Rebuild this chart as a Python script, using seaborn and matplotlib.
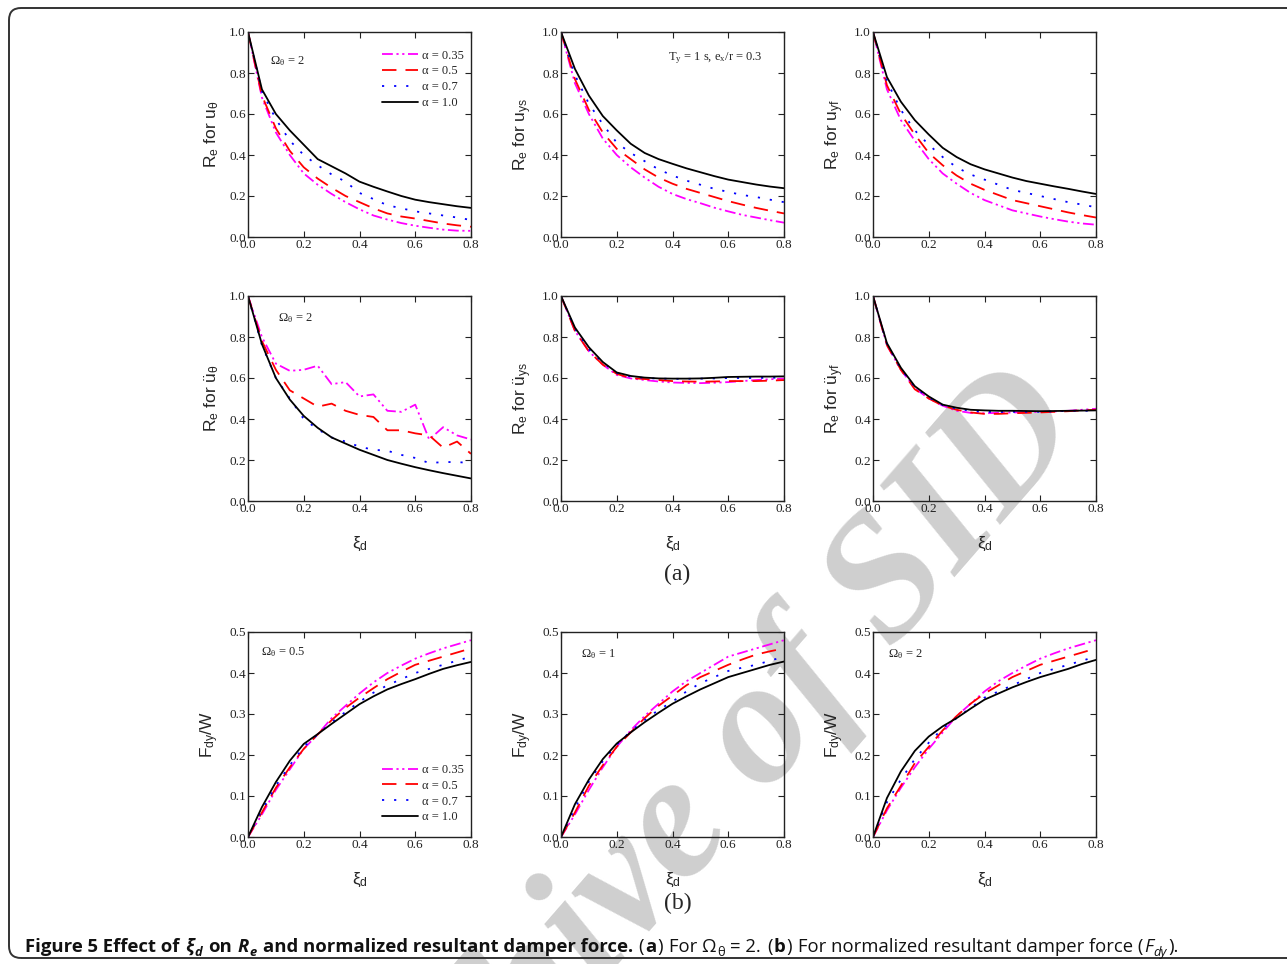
import numpy as np
import pandas as pd
import matplotlib
matplotlib.use("Agg")
import matplotlib.pyplot as plt
import seaborn as sns
from matplotlib.patches import FancyBboxPatch
from matplotlib.transforms import IdentityTransform

# damping ratio grid
xi_d = [0.0, 0.05, 0.1, 0.15, 0.2, 0.25, 0.3, 0.35, 0.4, 0.45, 0.5, 0.55, 0.6, 0.65, 0.7, 0.75, 0.8]
alphas = ["0.35", "0.5", "0.7", "1.0"]

# Re for u_theta (a: alpha 0.35, 0.5, 0.7, 1.0)
u_th_035 = [1.0, 0.68, 0.51, 0.40, 0.31, 0.255, 0.21, 0.17, 0.135, 0.105, 0.085, 0.068, 0.055, 0.045, 0.036, 0.031, 0.03]
u_th_05 = [1.0, 0.69, 0.53, 0.42, 0.34, 0.285, 0.24, 0.20, 0.17, 0.14, 0.115, 0.10, 0.09, 0.078, 0.066, 0.057, 0.05]
u_th_07 = [1.0, 0.71, 0.575, 0.47, 0.40, 0.35, 0.305, 0.27, 0.215, 0.185, 0.155, 0.14, 0.125, 0.115, 0.105, 0.095, 0.083]
u_th_10 = [1.0, 0.72, 0.60, 0.52, 0.45, 0.38, 0.345, 0.31, 0.27, 0.245, 0.222, 0.20, 0.182, 0.17, 0.16, 0.15, 0.142]

# Re for u_ys
u_ys_035 = [1.0, 0.75, 0.60, 0.48, 0.40, 0.34, 0.29, 0.245, 0.21, 0.185, 0.165, 0.143, 0.125, 0.108, 0.095, 0.082, 0.07]
u_ys_05 = [1.0, 0.77, 0.62, 0.51, 0.43, 0.38, 0.33, 0.29, 0.26, 0.235, 0.215, 0.195, 0.175, 0.158, 0.142, 0.128, 0.115]
u_ys_07 = [1.0, 0.79, 0.65, 0.55, 0.46, 0.41, 0.37, 0.33, 0.30, 0.275, 0.255, 0.235, 0.22, 0.205, 0.195, 0.182, 0.17]
u_ys_10 = [1.0, 0.82, 0.69, 0.59, 0.52, 0.455, 0.41, 0.38, 0.357, 0.335, 0.316, 0.297, 0.28, 0.268, 0.256, 0.246, 0.238]

# Re for u_yf
u_yf_035 = [1.0, 0.72, 0.57, 0.47, 0.38, 0.31, 0.26, 0.215, 0.18, 0.155, 0.13, 0.115, 0.10, 0.087, 0.075, 0.066, 0.06]
u_yf_05 = [1.0, 0.74, 0.60, 0.50, 0.41, 0.35, 0.30, 0.26, 0.23, 0.205, 0.18, 0.165, 0.15, 0.135, 0.12, 0.107, 0.095]
u_yf_07 = [1.0, 0.76, 0.62, 0.52, 0.45, 0.39, 0.34, 0.305, 0.28, 0.255, 0.23, 0.215, 0.20, 0.185, 0.17, 0.158, 0.145]
u_yf_10 = [1.0, 0.78, 0.66, 0.57, 0.50, 0.435, 0.39, 0.355, 0.33, 0.31, 0.29, 0.273, 0.26, 0.247, 0.235, 0.222, 0.21]

# Re for acceleration theta
a_th_035 = [1.0, 0.80, 0.67, 0.635, 0.64, 0.66, 0.57, 0.58, 0.51, 0.52, 0.44, 0.435, 0.47, 0.30, 0.36, 0.32, 0.30]
a_th_05 = [1.0, 0.78, 0.64, 0.54, 0.50, 0.46, 0.475, 0.44, 0.42, 0.41, 0.345, 0.345, 0.33, 0.32, 0.26, 0.29, 0.23]
a_th_07 = [1.0, 0.76, 0.60, 0.50, 0.40, 0.35, 0.31, 0.29, 0.265, 0.25, 0.245, 0.225, 0.21, 0.185, 0.19, 0.19, 0.185]
a_th_10 = [1.0, 0.765, 0.60, 0.495, 0.415, 0.357, 0.31, 0.28, 0.25, 0.225, 0.20, 0.182, 0.165, 0.15, 0.136, 0.123, 0.11]

# Re for acceleration ys
a_ys_035 = [1.0, 0.83, 0.73, 0.665, 0.615, 0.598, 0.59, 0.583, 0.578, 0.576, 0.575, 0.577, 0.58, 0.585, 0.59, 0.594, 0.597]
a_ys_05 = [1.0, 0.83, 0.73, 0.665, 0.62, 0.60, 0.595, 0.59, 0.585, 0.583, 0.582, 0.583, 0.585, 0.585, 0.585, 0.587, 0.59]
a_ys_07 = [1.0, 0.84, 0.74, 0.675, 0.625, 0.607, 0.60, 0.597, 0.596, 0.596, 0.597, 0.598, 0.60, 0.60, 0.60, 0.601, 0.602]
a_ys_10 = [1.0, 0.846, 0.75, 0.678, 0.627, 0.61, 0.602, 0.598, 0.597, 0.597, 0.598, 0.601, 0.605, 0.606, 0.607, 0.607, 0.608]

# Re for acceleration yf
a_yf_035 = [1.0, 0.76, 0.64, 0.55, 0.50, 0.465, 0.44, 0.43, 0.428, 0.43, 0.432, 0.433, 0.435, 0.437, 0.44, 0.445, 0.45]
a_yf_05 = [1.0, 0.76, 0.64, 0.545, 0.50, 0.465, 0.445, 0.432, 0.425, 0.425, 0.428, 0.43, 0.432, 0.435, 0.438, 0.442, 0.445]
a_yf_07 = [1.0, 0.765, 0.645, 0.555, 0.505, 0.468, 0.45, 0.44, 0.435, 0.434, 0.435, 0.435, 0.435, 0.437, 0.44, 0.44, 0.44]
a_yf_10 = [1.0, 0.77, 0.65, 0.56, 0.51, 0.47, 0.455, 0.445, 0.442, 0.44, 0.44, 0.439, 0.438, 0.439, 0.44, 0.441, 0.442]

# normalized damper force, Omega = 0.5, 1, 2
f05_035 = [0, 0.055, 0.115, 0.165, 0.215, 0.25, 0.29, 0.32, 0.35, 0.377, 0.40, 0.418, 0.435, 0.448, 0.46, 0.47, 0.48]
f05_05 = [0, 0.06, 0.12, 0.17, 0.215, 0.25, 0.285, 0.315, 0.34, 0.363, 0.385, 0.403, 0.42, 0.43, 0.44, 0.45, 0.46]
f05_07 = [0, 0.065, 0.125, 0.175, 0.22, 0.25, 0.28, 0.305, 0.33, 0.352, 0.37, 0.385, 0.40, 0.41, 0.42, 0.43, 0.44]
f05_10 = [0, 0.073, 0.134, 0.186, 0.227, 0.251, 0.276, 0.30, 0.324, 0.343, 0.36, 0.373, 0.385, 0.398, 0.41, 0.419, 0.427]

f1_035 = [0, 0.055, 0.115, 0.17, 0.22, 0.26, 0.295, 0.325, 0.355, 0.38, 0.40, 0.42, 0.44, 0.45, 0.46, 0.47, 0.48]
f1_05 = [0, 0.06, 0.125, 0.175, 0.22, 0.255, 0.29, 0.32, 0.345, 0.37, 0.39, 0.405, 0.42, 0.433, 0.445, 0.453, 0.46]
f1_07 = [0, 0.07, 0.135, 0.185, 0.225, 0.258, 0.285, 0.31, 0.33, 0.355, 0.375, 0.39, 0.405, 0.413, 0.42, 0.43, 0.44]
f1_10 = [0, 0.08, 0.14, 0.19, 0.228, 0.255, 0.28, 0.303, 0.325, 0.343, 0.36, 0.375, 0.39, 0.40, 0.41, 0.42, 0.428]

f2_035 = [0, 0.065, 0.12, 0.17, 0.215, 0.255, 0.295, 0.325, 0.355, 0.38, 0.40, 0.418, 0.435, 0.448, 0.46, 0.47, 0.48]
f2_05 = [0, 0.07, 0.125, 0.18, 0.22, 0.26, 0.295, 0.325, 0.35, 0.37, 0.39, 0.405, 0.42, 0.43, 0.44, 0.45, 0.46]
f2_07 = [0, 0.085, 0.14, 0.19, 0.23, 0.265, 0.29, 0.315, 0.34, 0.355, 0.37, 0.385, 0.40, 0.41, 0.42, 0.43, 0.44]
f2_10 = [0, 0.095, 0.16, 0.21, 0.245, 0.27, 0.29, 0.313, 0.335, 0.35, 0.365, 0.378, 0.39, 0.40, 0.41, 0.422, 0.432]

panels = [
    ([u_th_035, u_th_05, u_th_07, u_th_10], "R$_\\mathregular{e}$ for u$_\\mathregular{θ}$", "Ω$_\\mathregular{θ}$ = 2"),
    ([u_ys_035, u_ys_05, u_ys_07, u_ys_10], "R$_\\mathregular{e}$ for u$_\\mathregular{ys}$", "T$_\\mathregular{y}$ = 1 s, e$_\\mathregular{x}$/r = 0.3"),
    ([u_yf_035, u_yf_05, u_yf_07, u_yf_10], "R$_\\mathregular{e}$ for u$_\\mathregular{yf}$", None),
    ([a_th_035, a_th_05, a_th_07, a_th_10], "R$_\\mathregular{e}$ for ü$_\\mathregular{θ}$", "Ω$_\\mathregular{θ}$ = 2"),
    ([a_ys_035, a_ys_05, a_ys_07, a_ys_10], "R$_\\mathregular{e}$ for ü$_\\mathregular{ys}$", None),
    ([a_yf_035, a_yf_05, a_yf_07, a_yf_10], "R$_\\mathregular{e}$ for ü$_\\mathregular{yf}$", None),
    ([f05_035, f05_05, f05_07, f05_10], "F$_\\mathregular{dy}$/W", "Ω$_\\mathregular{θ}$ = 0.5"),
    ([f1_035, f1_05, f1_07, f1_10], "F$_\\mathregular{dy}$/W", "Ω$_\\mathregular{θ}$ = 1"),
    ([f2_035, f2_05, f2_07, f2_10], "F$_\\mathregular{dy}$/W", "Ω$_\\mathregular{θ}$ = 2"),
]

colors = ["#ff00ff", "#ff0000", "#0000ff", "#000000"]
styles = [(0, (6, 2, 1.2, 2, 1.2, 2)), (0, (8, 5)), (0, (1.2, 5.5)), "-"]
note_pos = [(0.10, 0.86), (0.48, 0.87), None, (0.135, 0.89), None, None, (0.06, 0.90), (0.09, 0.89), (0.067, 0.89)]

sns.set_style("ticks")
plt.rcParams["font.family"] = ["Liberation Serif", "DejaVu Serif"]
plt.rcParams["mathtext.fontset"] = "custom"
plt.rcParams["mathtext.rm"] = "Liberation Serif"
plt.rcParams["mathtext.it"] = "Liberation Serif:italic"

W, H = 1287, 964
fig = plt.figure(figsize=(W / 100, H / 100), dpi=100)

# rounded frame
frame = FancyBboxPatch((9, 6), 1320, 950, boxstyle="round,pad=0,rounding_size=12",
                       transform=IdentityTransform(), fill=False, lw=1.4, ec="#333333")
fig.add_artist(frame)

# watermark
fig.text(693 / W, 1 - 822 / H, "Archive of SID", fontsize=128, family="Liberation Serif",
         style="italic", weight="bold", color="#cfcfcf", rotation=49,
         ha="center", va="center", rotation_mode="anchor", zorder=-1)

lefts = [248, 561, 873]
tops = [32, 296, 632]
aw, ah = 223, 205

for k, (series, ylab, note) in enumerate(panels):
    r, c = divmod(k, 3)
    ax = fig.add_axes([lefts[c] / W, 1 - (tops[r] + ah) / H, aw / W, ah / H])
    ax.patch.set_alpha(0)
    for vals, a, col, ls in zip(series, alphas, colors, styles):
        df = pd.DataFrame({"xi": xi_d, "val": vals})
        sns.lineplot(data=df, x="xi", y="val", ax=ax, color=col, linestyle=ls,
                     lw=1.3, label=f"α = {a}", legend=False)
    ax.set_xlim(0, 0.8)
    ax.set_xticks([0, 0.2, 0.4, 0.6, 0.8])
    if r < 2:
        ax.set_ylim(0, 1.0)
        ax.set_yticks([0, 0.2, 0.4, 0.6, 0.8, 1.0])
    else:
        ax.set_ylim(0, 0.5)
        ax.set_yticks([0, 0.1, 0.2, 0.3, 0.4, 0.5])
    ax.xaxis.set_major_formatter(matplotlib.ticker.FormatStrFormatter("%.1f"))
    ax.yaxis.set_major_formatter(matplotlib.ticker.FormatStrFormatter("%.1f"))
    ax.tick_params(direction="in", length=4, width=0.8, labelsize=9.5, pad=1.5,
                   top=True, right=True, colors="#222222")
    for sp in ax.spines.values():
        sp.set_linewidth(1.0)
        sp.set_color("#222222")
    ax.set_ylabel(ylab, family="Liberation Sans", fontsize=12.5, labelpad=6)
    if r >= 1:
        ax.set_xlabel("ξ$_\\mathregular{d}$", family="Liberation Sans", fontsize=12.5, labelpad=14)
    else:
        ax.set_xlabel("")
    if note is not None:
        nx, ny = note_pos[k]
        ax.text(nx, ny, note, transform=ax.transAxes, fontsize=9, ha="left", va="center")
    if k == 0:
        ax.legend(loc="upper right", bbox_to_anchor=(1.0, 0.95), frameon=False, fontsize=9,
                  handlelength=2.9, handletextpad=0.3, labelspacing=0.3, borderaxespad=0.2)
    if k == 6:
        ax.legend(loc="lower right", bbox_to_anchor=(1.0, 0.03), frameon=False, fontsize=9,
                  handlelength=2.9, handletextpad=0.3, labelspacing=0.3, borderaxespad=0.2)

fig.text(677 / W, 1 - 574 / H, "(a)", fontsize=17, ha="center", va="center")
fig.text(678 / W, 1 - 903 / H, "(b)", fontsize=17, ha="center", va="center")

# caption built from pieces
renderer = fig.canvas.get_renderer()
cap_font = ["Open Sans", "DejaVu Sans"]
cap_size = 13.3
gap_t = fig.text(0, 0, "n n", fontsize=cap_size, family=cap_font)
gap_n = fig.text(0, 0, "nn", fontsize=cap_size, family=cap_font)
space = gap_t.get_window_extent(renderer).width - gap_n.get_window_extent(renderer).width
gap_t.remove()
gap_n.remove()

pieces = [
    ("Figure 5 Effect of", "bold", "normal", False, True),
    ("ξ", "bold", "italic", False, False),
    ("d", "bold", "italic", True, True),
    ("on", "bold", "normal", False, True),
    ("R", "bold", "italic", False, False),
    ("e", "bold", "italic", True, True),
    ("and normalized resultant damper force.", "bold", "normal", False, True),
    ("(", "normal", "normal", False, False),
    ("a", "bold", "normal", False, False),
    (")", "normal", "normal", False, True),
    ("For Ω", "normal", "normal", False, False),
    ("θ", "normal", "normal", True, True),
    ("= 2.", "normal", "normal", False, True),
    ("(", "normal", "normal", False, False),
    ("b", "bold", "normal", False, False),
    (")", "normal", "normal", False, True),
    ("For normalized resultant damper force (", "normal", "normal", False, False),
    ("F", "normal", "italic", False, False),
    ("dy", "normal", "italic", True, False),
    (").", "normal", "normal", False, False),
]
x = 25
base_y = H - 952
for txt, wt, st, sub, gap in pieces:
    t = fig.text(x, base_y - (4 if sub else 0), txt, transform=IdentityTransform(),
                 fontsize=cap_size * (0.7 if sub else 1.0), family=cap_font,
                 weight=wt, style=st, ha="left", va="baseline", color="#111111")
    x += t.get_window_extent(renderer).width + 1
    if gap:
        x += space

plt.savefig("out.png", dpi=100)
